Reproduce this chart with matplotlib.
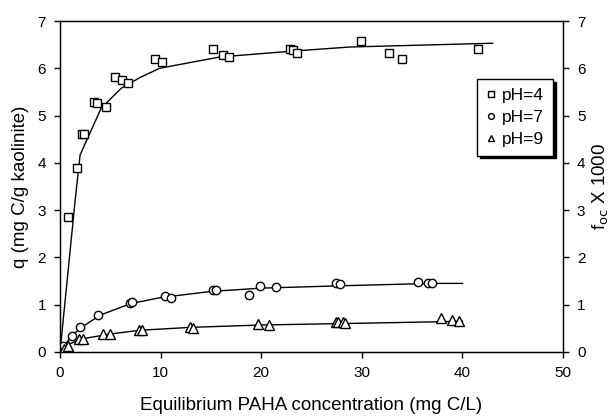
import matplotlib
matplotlib.use("Agg")
import matplotlib.pyplot as plt

plt.rcParams['font.family'] = ['Liberation Sans', 'DejaVu Sans']

# pH=4 data (squares)
x4 = [0.0, 0.8, 1.7, 2.2, 2.4, 3.4, 3.7, 4.6, 5.5, 6.2, 6.8, 9.4, 10.1, 15.2, 16.2, 16.8, 22.9, 23.2, 23.6, 29.9, 32.7, 34.0, 41.5]
y4 = [0.0, 2.85, 3.9, 4.62, 4.6, 5.28, 5.26, 5.18, 5.82, 5.75, 5.69, 6.2, 6.13, 6.41, 6.28, 6.24, 6.4, 6.38, 6.32, 6.57, 6.32, 6.2, 6.4]
# pH=4 fitted curve
fx4 = [0.0, 1.5, 2.0, 4.1, 6.1, 8.0, 9.9, 15.9, 22.9, 28.8, 43.0]
fy4 = [0.0, 3.2, 4.17, 5.16, 5.58, 5.81, 6.0, 6.24, 6.36, 6.45, 6.53]

# pH=7 data (circles)
x7 = [0.0, 0.3, 1.2, 2.0, 3.8, 7.0, 7.2, 10.4, 11.0, 15.2, 15.5, 18.8, 19.9, 21.5, 27.4, 27.8, 35.6, 36.6, 37.0]
y7 = [0.0, 0.12, 0.34, 0.53, 0.78, 1.04, 1.05, 1.18, 1.15, 1.3, 1.3, 1.21, 1.4, 1.37, 1.46, 1.44, 1.47, 1.45, 1.45]
fx7 = [0.0, 1.0, 2.0, 4.0, 7.0, 10.0, 15.0, 20.0, 28.0, 37.0, 40.0]
fy7 = [0.0, 0.3, 0.5, 0.78, 1.02, 1.15, 1.28, 1.35, 1.4, 1.45, 1.45]

# pH=9 data (triangles)
x9 = [0.0, 0.4, 0.8, 1.9, 2.3, 4.3, 5.0, 7.9, 8.1, 12.9, 13.2, 19.7, 20.8, 27.4, 27.6, 28.1, 28.3, 37.9, 39.0, 39.7]
y9 = [0.0, 0.06, 0.13, 0.27, 0.27, 0.37, 0.37, 0.47, 0.47, 0.53, 0.51, 0.59, 0.57, 0.64, 0.64, 0.64, 0.62, 0.71, 0.68, 0.66]
fx9 = [0.0, 1.0, 2.0, 5.0, 8.0, 13.0, 20.0, 28.0, 38.0, 40.0]
fy9 = [0.0, 0.17, 0.27, 0.38, 0.46, 0.52, 0.57, 0.6, 0.64, 0.65]

labels = ['pH=4', 'pH=7', 'pH=9']
xticks = [0, 10, 20, 30, 40, 50]
yticks = [0, 1, 2, 3, 4, 5, 6, 7]

fig = plt.figure(figsize=(6.13, 4.17), dpi=100)
ax = fig.add_axes([0.0979, 0.156, 0.8206, 0.7936])

mk = dict(markerfacecolor='white', markeredgecolor='black', markeredgewidth=1.0, linestyle='none')
ax.plot(fx4, fy4, color='black', lw=1.0)
ax.plot(fx7, fy7, color='black', lw=1.0)
ax.plot(fx9, fy9, color='black', lw=1.0)
h4, = ax.plot(x4, y4, marker='s', markersize=6, **mk)
h7, = ax.plot(x7, y7, marker='o', markersize=6, **mk)
h9, = ax.plot(x9, y9, marker='^', markersize=6.5, **mk)

ax.set_xlim(0, 50)
ax.set_ylim(0, 7)
ax.set_xticks(xticks)
ax.set_yticks(yticks)
ax.tick_params(direction='out', length=4, width=1, labelsize=11, pad=6)
for s in ax.spines.values():
    s.set_linewidth(1.0)

ax2 = ax.twinx()
ax2.set_ylim(0, 7)
ax2.set_yticks(yticks)
ax2.tick_params(direction='out', length=4, width=1, labelsize=11, pad=6)

ax.set_xlabel('Equilibrium PAHA concentration (mg C/L)', fontsize=13.5, labelpad=12)
ax.set_ylabel('q (mg C/g kaolinite)', fontsize=13.5, labelpad=6)
ax2.set_ylabel(r'f$_{\mathrm{oc}}$ X 1000', fontsize=13.5)
ax2.yaxis.set_label_coords(1.055, 0.5)

leg = ax.legend([h4, h7, h9], labels, loc='upper right', bbox_to_anchor=(0.98, 0.825),
                fancybox=False, edgecolor='black', framealpha=1, fontsize=12.5,
                markerscale=0.7, handlelength=0.6, handletextpad=0.35,
                borderpad=0.5, labelspacing=0.4, borderaxespad=0,
                shadow={'color': 'black', 'alpha': 1})
leg.get_frame().set_linewidth(1.0)

fig.savefig('out.png', dpi=100)
